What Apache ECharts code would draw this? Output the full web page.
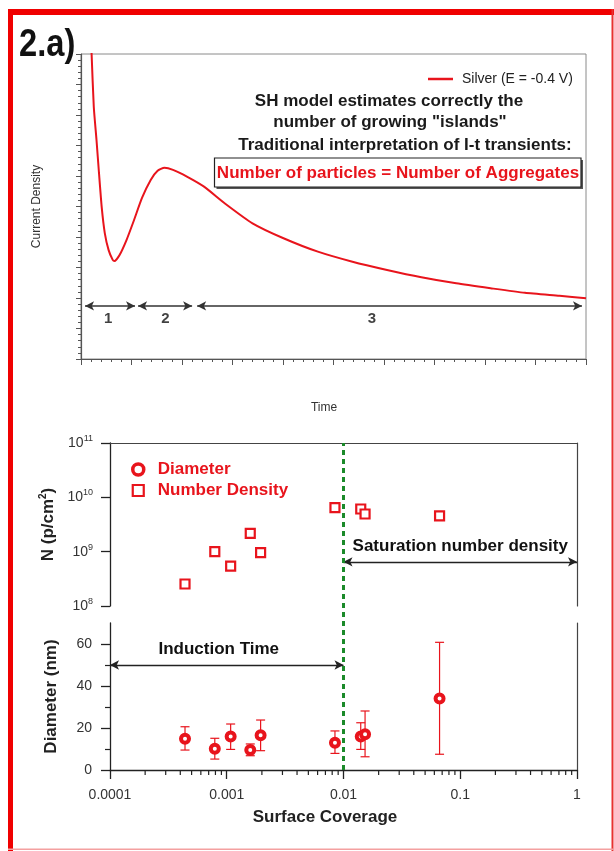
<!DOCTYPE html>
<html><head><meta charset="utf-8">
<script src="https://cdn.jsdelivr.net/npm/echarts@6/dist/echarts.min.js"></script>
<style>html,body{margin:0;padding:0;background:#fff}#c{width:614px;height:851px}</style>
</head><body><div id="c"></div>
<script>
// ---------- Panel 2.a (top): current transient, arbitrary units ----------
const timeValues = [0.20, 0.21, 0.253, 0.307, 0.356, 0.41, 0.471, 0.547, 0.628, 0.663, 0.764, 0.901, 1.038, 1.208, 1.38, 1.517, 1.653, 1.822, 2.097, 2.436, 2.85, 3.396, 4.01, 4.69, 5.376, 6.06, 6.74, 7.43, 8.11, 8.79, 9.475, 10.0];
const currentValues = [10.5, 10.0, 8.27, 7.18, 6.10, 4.98, 4.13, 3.57, 3.25, 3.21, 3.41, 3.90, 4.50, 5.28, 5.87, 6.17, 6.27, 6.20, 5.98, 5.65, 5.10, 4.45, 3.96, 3.52, 3.19, 2.92, 2.68, 2.48, 2.32, 2.17, 2.07, 1.99];
const phaseNames = ['1', '2', '3'];
const phaseStart = [0.08, 1.13, 2.30];
const phaseEnd = [1.07, 2.20, 9.92];
const phaseLabelX = [0.54, 1.67, 5.76];
const phaseArrowY = 1.74;
const phaseLabelY = 1.31;

// ---------- Bottom panels ----------
const coverage = [4.39e-4, 7.9e-4, 1.08e-3, 1.59e-3, 1.95e-3, 8.45e-3, 1.405e-2, 1.53e-2, 6.65e-2];
const numberDensity = [2.54e8, 1.0e9, 5.4e8, 2.18e9, 9.6e8, 6.45e9, 6.1e9, 4.93e9, 4.54e9];
const diameter = [14.9, 10.1, 15.9, 9.5, 16.5, 13.0, 15.9, 17.0, 34.0];
const diameterHigh = [20.6, 15.1, 21.9, 12.4, 23.8, 18.6, 22.5, 28.1, 60.8];
const diameterLow = [9.5, 5.2, 9.8, 6.8, 9.2, 7.9, 9.8, 6.3, 7.5];
const coverageTickLabels = ['0.0001', '0.001', '0.01', '0.1', '1'];
const coverageMinorTicks = [2e-4, 3e-4, 4e-4, 5e-4, 6e-4, 7e-4, 8e-4, 9e-4, 2e-3, 3e-3, 4e-3, 5e-3, 6e-3, 7e-3, 8e-3, 9e-3, 2e-2, 3e-2, 4e-2, 5e-2, 6e-2, 7e-2, 8e-2, 9e-2, 0.2, 0.3, 0.4, 0.5, 0.6, 0.7, 0.8, 0.9];
const diameterTicks = [0, 20, 40, 60];
const diameterMinorTicks = [10, 30, 50];
const thresholdCoverage = 0.01;
const inductionFrom = 1e-4, inductionTo = 0.01, inductionY = 50;
const saturationFrom = 0.01, saturationTo = 1, saturationY = 6.5e8;

const red = '#e8141c';
const FF = "'Liberation Sans', Arial, sans-serif";

const chart = echarts.init(document.getElementById('c'), null, {renderer: 'canvas'});

const noSplit = {show: false};
const option = {
  animation: false,
  backgroundColor: '#fff',
  textStyle: {fontFamily: FF},
  grid: [
    {left: 81, top: 54, width: 505, height: 305, show: true, borderColor: '#8a8a8a', borderWidth: 1},
    {left: 110, top: 443, width: 467, height: 163},
    {left: 110, top: 623, width: 467, height: 147},
    {left: 110, top: 443, width: 467, height: 327}
  ],
  legend: [
    {data: [{name: 'Silver (E = -0.4 V)', icon: 'rect', itemStyle: {color: red}}], left: 423, top: 66, itemWidth: 25, itemHeight: 2.5, selectedMode: false,
     textStyle: {fontSize: 14, color: '#222', fontFamily: FF, padding: [0, 0, 0, 4], lineHeight: 16}},
    {data: [{name: 'Diameter', icon: 'circle', itemStyle: {color: '#fff', borderColor: red, borderWidth: 3.5}},
            {name: 'Number Density', icon: 'rect', itemStyle: {color: '#fff', borderColor: red, borderWidth: 2.2}}],
     orient: 'vertical', left: 126, top: 456, itemWidth: 11, itemHeight: 11, itemGap: 4, selectedMode: false,
     textStyle: {fontSize: 17, fontWeight: 'bold', color: red, fontFamily: FF, padding: [0, 0, 0, 9]}}
  ],
  xAxis: [
    {gridIndex: 0, type: 'value', min: 0, max: 10, interval: 1,
     axisLine: {show: true, lineStyle: {color: '#555', width: 1.2}},
     axisTick: {show: true, length: 6, lineStyle: {color: '#555'}},
     minorTick: {show: true, splitNumber: 5, length: 3, lineStyle: {color: '#555'}},
     axisLabel: {show: false}, splitLine: noSplit, minorSplitLine: noSplit,
     name: 'Time', nameLocation: 'middle', nameGap: 43,
     nameTextStyle: {fontSize: 12, color: '#333', fontFamily: FF, padding: [0, 19, 0, 0]}},
    {gridIndex: 1, type: 'log', logBase: 10, min: 1e-4, max: 1, position: 'top',
     axisLine: {show: true, lineStyle: {color: '#444', width: 1.2}}, axisTick: {show: false},
     axisLabel: {show: false}, splitLine: noSplit},
    {gridIndex: 2, type: 'log', logBase: 10, min: 1e-4, max: 1, position: 'bottom',
     axisLine: {show: true, lineStyle: {color: '#222', width: 1.3}},
     axisTick: {show: true, length: 9, lineStyle: {color: '#222', width: 1.3}},
     axisLabel: {show: true, margin: 18, fontSize: 14, color: '#333', fontFamily: FF,
                 formatter: (v, i) => coverageTickLabels[i]},
     splitLine: noSplit,
     name: 'Surface Coverage', nameLocation: 'middle', nameGap: 39,
     nameTextStyle: {fontSize: 17, fontWeight: 'bold', color: '#222', fontFamily: FF, padding: [0, 37, 0, 0]}},
    {gridIndex: 3, type: 'log', logBase: 10, min: 1e-4, max: 1, show: false}
  ],
  yAxis: [
    {gridIndex: 0, type: 'value', min: 0, max: 10, interval: 1,
     axisLine: {show: true, lineStyle: {color: '#555', width: 1.2}},
     axisTick: {show: true, length: 5, lineStyle: {color: '#555'}},
     minorTick: {show: true, splitNumber: 5, length: 3, lineStyle: {color: '#555'}},
     axisLabel: {show: false}, splitLine: noSplit, minorSplitLine: noSplit,
     name: 'Current Density', nameLocation: 'middle', nameGap: 38,
     nameTextStyle: {fontSize: 12, color: '#333', fontFamily: FF}},
    {gridIndex: 1, type: 'log', logBase: 10, min: 1e8, max: 1e11,
     axisLine: {show: true, lineStyle: {color: '#222', width: 1.3}},
     axisTick: {show: true, length: 9, lineStyle: {color: '#222', width: 1.3}},
     axisLabel: {show: true, margin: 17, color: '#333', fontFamily: FF,
                 formatter: v => '{b|10}{s|' + Math.round(Math.log10(v)) + '}',
                 rich: {b: {fontSize: 14, color: '#333', fontFamily: FF}, s: {fontSize: 9, color: '#333', fontFamily: FF, padding: [0, 0, 9, 0]}}},
     splitLine: noSplit,
     name: 'N (p/cm{s|2})', nameLocation: 'middle', nameGap: 50,
     nameTextStyle: {fontSize: 17, fontWeight: 'bold', color: '#222', fontFamily: FF,
                     rich: {s: {fontSize: 10, fontWeight: 'bold', color: '#222', fontFamily: FF, padding: [0, 0, 9, 0]}}}},
    {gridIndex: 1, type: 'log', logBase: 10, min: 1e8, max: 1e11, position: 'right',
     axisLine: {show: true, lineStyle: {color: '#444', width: 1.2}}, axisTick: {show: false},
     axisLabel: {show: false}, splitLine: noSplit},
    {gridIndex: 2, type: 'value', min: 0, max: 70, interval: 10,
     axisLine: {show: true, lineStyle: {color: '#222', width: 1.3}},
     axisTick: {show: true, length: 9, customValues: diameterTicks, lineStyle: {color: '#222', width: 1.3}},
     axisLabel: {show: true, margin: 18, fontSize: 14, color: '#333', fontFamily: FF, customValues: diameterTicks,
                 formatter: v => (v % 20 === 0 && v < 70) ? String(v) : ''},
     splitLine: noSplit,
     name: 'Diameter (nm)', nameLocation: 'middle', nameGap: 50,
     nameTextStyle: {fontSize: 17, fontWeight: 'bold', color: '#222', fontFamily: FF}},
    {gridIndex: 2, type: 'value', min: 0, max: 70, position: 'right',
     axisLine: {show: true, lineStyle: {color: '#444', width: 1.2}}, axisTick: {show: false},
     axisLabel: {show: false}, splitLine: noSplit},
    {gridIndex: 2, type: 'value', min: 0, max: 70, interval: 10, position: 'left',
     axisLine: {show: false}, axisTick: {show: true, length: 5, customValues: diameterMinorTicks, lineStyle: {color: '#222', width: 1.2}},
     axisLabel: {show: false}, splitLine: noSplit},
    {gridIndex: 3, type: 'value', min: 0, max: 1, show: false}
  ],
  series: [
    {type: 'line', name: 'Silver (E = -0.4 V)', xAxisIndex: 0, yAxisIndex: 0,
     data: timeValues.map((t, i) => [t, currentValues[i]]),
     symbol: 'none', smooth: 0.2, clip: true, color: red,
     lineStyle: {color: red, width: 2},
     markLine: {silent: true, symbol: ['arrow', 'arrow'], symbolSize: [7, 9],
                lineStyle: {color: '#333', width: 1.5, type: 'solid'}, label: {show: false},
                data: phaseStart.map((s, i) => [{coord: [s, phaseArrowY]}, {coord: [phaseEnd[i], phaseArrowY]}])}},
    {type: 'scatter', xAxisIndex: 0, yAxisIndex: 0, symbolSize: 0, silent: true,
     data: phaseNames.map((n, i) => ({name: n, value: [phaseLabelX[i], phaseLabelY]})),
     label: {show: true, position: 'inside', formatter: p => p.name, color: '#111', fontSize: 15, fontWeight: 'bold', fontFamily: FF}},
    {type: 'scatter', name: 'Number Density', xAxisIndex: 1, yAxisIndex: 1,
     data: coverage.map((c, i) => [c, numberDensity[i]]),
     symbol: 'rect', symbolSize: 9, color: red,
     itemStyle: {color: '#fff', borderColor: red, borderWidth: 2.2, opacity: 1},
     markLine: {silent: true, symbol: ['arrow', 'arrow'], symbolSize: [7, 9],
                lineStyle: {color: '#222', width: 1.3, type: 'solid'},
                label: {show: true, position: 'insideMiddleTop', distance: 7, formatter: 'Saturation number density',
                        fontSize: 17, fontWeight: 'bold', color: '#111', fontFamily: FF},
                data: [[{coord: [saturationFrom, saturationY]}, {coord: [saturationTo, saturationY]}]]}},
    {type: 'custom', xAxisIndex: 2, yAxisIndex: 3, silent: true, z: 1,
     data: coverage.map((c, i) => [c, diameterLow[i], diameterHigh[i]]),
     encode: {x: 0, y: [1, 2]},
     renderItem: (params, api) => {
       const x = api.value(0);
       const lo = api.coord([x, api.value(1)]);
       const hi = api.coord([x, api.value(2)]);
       const hw = 4.5;
       const st = {stroke: red, lineWidth: 1.2};
       return {type: 'group', children: [
         {type: 'line', shape: {x1: lo[0], y1: lo[1], x2: hi[0], y2: hi[1]}, style: st},
         {type: 'line', shape: {x1: lo[0] - hw, y1: lo[1], x2: lo[0] + hw, y2: lo[1]}, style: st},
         {type: 'line', shape: {x1: hi[0] - hw, y1: hi[1], x2: hi[0] + hw, y2: hi[1]}, style: st}
       ]};
     }},
    {type: 'scatter', name: 'Diameter', xAxisIndex: 2, yAxisIndex: 3, z: 3,
     data: coverage.map((c, i) => [c, diameter[i]]),
     symbol: 'circle', symbolSize: 8, color: red,
     itemStyle: {color: '#fff', borderColor: red, borderWidth: 4, opacity: 1},
     markLine: {silent: true, symbol: ['arrow', 'arrow'], symbolSize: [7, 9],
                lineStyle: {color: '#222', width: 1.3, type: 'solid'},
                label: {show: true, position: 'insideMiddleTop', distance: 7, formatter: 'Induction Time',
                        fontSize: 17, fontWeight: 'bold', color: '#111', fontFamily: FF, padding: [0, 16, 0, 0]},
                data: [[{coord: [inductionFrom, inductionY]}, {coord: [inductionTo, inductionY]}]]}},
    {type: 'custom', xAxisIndex: 2, yAxisIndex: 3, silent: true, clip: false,
     data: coverageMinorTicks.map(v => [v, 0]),
     renderItem: (params, api) => {
       const p = api.coord([api.value(0), 0]);
       return {type: 'line', shape: {x1: p[0], y1: p[1], x2: p[0], y2: p[1] + 5}, style: {stroke: '#222', lineWidth: 1.2}};
     }},
    {type: 'scatter', xAxisIndex: 3, yAxisIndex: 6, data: [], silent: true,
     markLine: {silent: true, symbol: 'none', label: {show: false},
                lineStyle: {color: '#1b8a2a', width: 3, type: [5, 4]},
                data: [{xAxis: thresholdCoverage}]}}
  ],
  graphic: [
    {type: 'rect', shape: {x: 8, y: 9, width: 606, height: 6}, style: {fill: '#f00000'}, silent: true},
    {type: 'rect', shape: {x: 8, y: 9, width: 5, height: 842}, style: {fill: '#f00000'}, silent: true},
    {type: 'rect', shape: {x: 611.5, y: 9, width: 2, height: 842}, style: {fill: '#e83030'}, silent: true},
    {type: 'rect', shape: {x: 8, y: 848.5, width: 606, height: 1.5}, style: {fill: '#f4a0a0'}, silent: true},
    {type: 'text', x: 19, y: 46, scaleX: 0.86, style: {text: '2.a)', font: 'bold 38px ' + FF, fill: '#111', verticalAlign: 'middle'}, silent: true},
    {type: 'text', x: 389, y: 101, style: {text: 'SH model estimates correctly the', font: 'bold 17px ' + FF, fill: '#1a1a1a', align: 'center', verticalAlign: 'middle'}, silent: true},
    {type: 'text', x: 390, y: 122, style: {text: 'number of growing "islands"', font: 'bold 17px ' + FF, fill: '#1a1a1a', align: 'center', verticalAlign: 'middle'}, silent: true},
    {type: 'text', x: 405, y: 145, style: {text: 'Traditional interpretation of I-t transients:', font: 'bold 17px ' + FF, fill: '#1a1a1a', align: 'center', verticalAlign: 'middle'}, silent: true},
    {type: 'rect', shape: {x: 216.5, y: 160, width: 366.5, height: 29}, style: {fill: '#555'}, silent: true, z: 10},
    {type: 'rect', shape: {x: 214.5, y: 158, width: 366.5, height: 29}, style: {fill: '#fff', stroke: '#222', lineWidth: 1.2}, silent: true, z: 11},
    {type: 'text', x: 398, y: 173, z: 12, style: {text: 'Number of particles = Number of Aggregates', font: 'bold 17px ' + FF, fill: red, align: 'center', verticalAlign: 'middle'}, silent: true}
  ]
};
chart.setOption(option);
</script>
</body></html>
